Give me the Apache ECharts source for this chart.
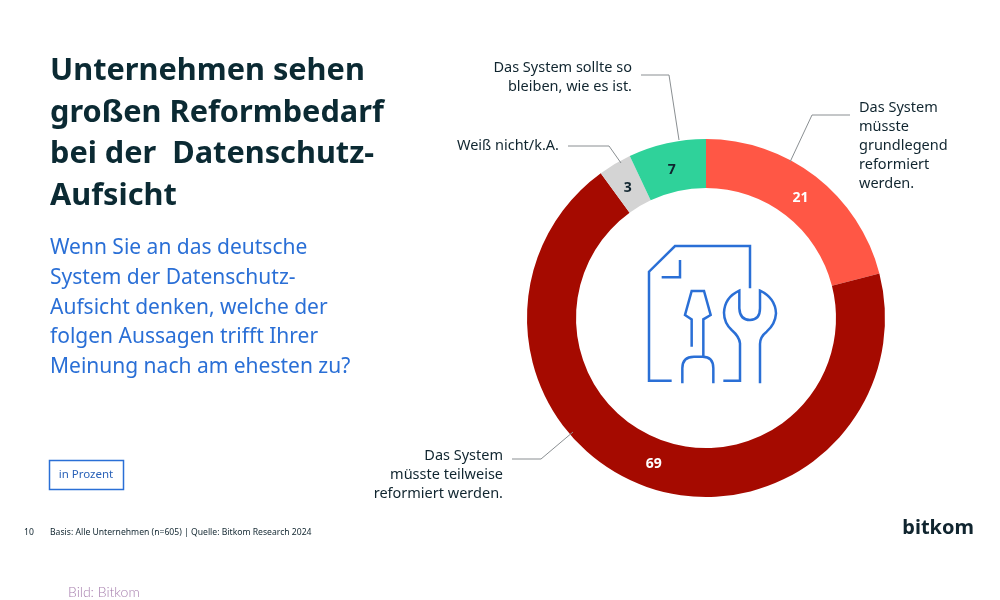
<!DOCTYPE html>
<html><head><meta charset="utf-8">
<script src="https://cdn.jsdelivr.net/npm/echarts@6/dist/echarts.min.js"></script>
<style>html,body{margin:0;padding:0;background:#fff}#c{width:1000px;height:600px}</style></head>
<body><div id="c"></div>
<script>
const categories = ['Das System\nmüsste\ngrundlegend\nreformiert\nwerden.','Das System\nmüsste teilweise\nreformiert werden.','Weiß nicht/k.A.','Das System sollte so\nbleiben, wie es ist.'];
const values = [21,69,3,7];
const sliceColors = ['#ff5745','#a50a00','#d4d4d4','#2fd29a'];
const valueColors = ['#ffffff','#ffffff','#10252f','#10252f'];
const titleLines = ['Unternehmen sehen','großen Reformbedarf','bei der  Datenschutz-','Aufsicht'];
const subtitleLines = ['Wenn Sie an das deutsche','System der Datenschutz-','Aufsicht denken, welche der','folgen Aussagen trifft Ihrer','Meinung nach am ehesten zu?'];
const unitNote = 'in Prozent';
const pageNo = '10';
const sourceNote = 'Basis: Alle Unternehmen (n=605) | Quelle: Bitkom Research 2024';
const brand = 'bitkom';
const credit = 'Bild: Bitkom';

const F = '"Noto Sans", sans-serif';
const DARK = '#10252f', BLUE = '#2a6fd6';
const labelPlacement = [
  {x:859, y:98,  align:'left',  line:[[850,115],[812,115],[790,162]]},
  {x:503, y:446, align:'right', line:[[512,459],[541,459],[573,432]]},
  {x:559, y:136, align:'right', line:[[568,146],[609,146],[621,163]]},
  {x:632, y:58,  align:'right', line:[[641,75],[669,75],[679,140]]}
];
const valueNudge = [[-2,4],[1,-2],[2,6],[0,6]];
const iconPaths = [
 'M155 482 L87 482 L87 155 L165 78 L390 78 L390 205',
 'M180 120 L180 172 L125 172',
 'M215 380 L215 298 L195 285 L215 213 L252 213 L272 285 L250 298 L250 410',
 'M187 490 L187 445 Q187 410 222 410 L248 410 Q280 410 280 445 L280 490',
 'M310 482 L360 482 L360 370 Q358 350 335 330 Q312 308 312 278 Q314 232 358 212 L358 265 Q360 300 390 300 Q420 300 420 265 L420 212 Q466 234 468 280 Q466 312 440 335 Q420 350 420 372 L420 490'
];
iconPaths.forEach((d,i)=>echarts.graphic.registerShape('icon'+i, echarts.graphic.extendPath(d,{})));

const graphic = [];
titleLines.forEach((t,i)=>graphic.push({type:'text',x:50,y:75.5+i*41.6-19.5,style:{text:t,font:'700 30.7px '+F,fill:'#0b2a33',textVerticalAlign:'top'}}));
subtitleLines.forEach((t,i)=>graphic.push({type:'text',x:50,y:253+i*29.6-15,style:{text:t,font:'400 21px '+F,fill:BLUE,textVerticalAlign:'top'}}));
graphic.push({type:'rect',shape:{x:49.5,y:460.5,width:74,height:29},style:{fill:'none',stroke:BLUE,lineWidth:1.5}});
graphic.push({type:'text',x:86,y:475,style:{text:unitNote,font:'400 11.5px '+F,fill:'#2a62b8',textAlign:'center',textVerticalAlign:'middle'}});
graphic.push({type:'text',x:24,y:533,style:{text:pageNo,font:'400 8.6px '+F,fill:DARK,textVerticalAlign:'middle'}});
graphic.push({type:'text',x:50,y:533,style:{text:sourceNote,font:'400 8.62px '+F,fill:DARK,textVerticalAlign:'middle'}});
graphic.push({type:'text',x:974,y:528,style:{text:brand,font:'700 20px '+F,fill:'#10252f',textAlign:'right',textVerticalAlign:'middle'}});
graphic.push({type:'text',x:68,y:592,style:{text:credit,font:'300 14px Lato, '+F,fill:'#a77fae',textVerticalAlign:'middle'}});
graphic.push({type:'group',x:620,y:220,scaleX:1/3,scaleY:1/3,children:iconPaths.map((d,i)=>({
  type:'icon'+i,style:{fill:'none',stroke:BLUE,lineWidth:7.5,lineJoin:'miter'}}))});

const chart = echarts.init(document.getElementById('c'),null,{renderer:'canvas'});
const center=[706,318], radius=[130,179];
chart.setOption({
  animation:false, backgroundColor:'#fff', graphic,
  series:[
   {type:'pie',center,radius,startAngle:90,clockwise:true,silent:true,
    data:values.map((v,i)=>({value:v,name:categories[i],itemStyle:{color:sliceColors[i]},
      label:{color:valueColors[i]}})),
    label:{position:'inside',formatter:'{c}',fontFamily:F,fontWeight:700,fontSize:14},
    labelLine:{show:false},
    labelLayout:(p)=>({dx:valueNudge[p.dataIndex][0],dy:valueNudge[p.dataIndex][1]})},
   {type:'pie',center,radius,startAngle:90,clockwise:true,silent:true,z:3,
    itemStyle:{color:'transparent'},
    data:values.map((v,i)=>({value:v,name:categories[i]})),
    label:{show:true,position:'outside',formatter:'{b}',fontFamily:F,fontSize:14.5,lineHeight:19,color:DARK},
    labelLine:{show:true,lineStyle:{color:'#8a8f92',width:1}},
    labelLayout:(p)=>{const m=labelPlacement[p.dataIndex];
      return {x:m.x,y:m.y,align:m.align,verticalAlign:'top',labelLinePoints:m.line};}}
  ]
});
</script></body></html>
